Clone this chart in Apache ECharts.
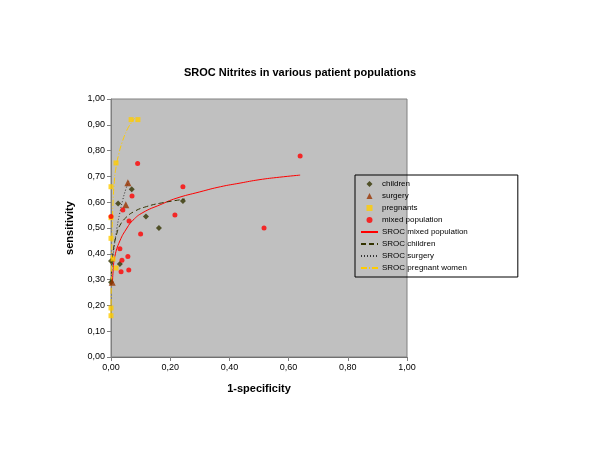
<!DOCTYPE html>
<html><head><meta charset="utf-8">
<script src="https://cdn.jsdelivr.net/npm/echarts@6/dist/echarts.min.js"></script>
<style>html,body{margin:0;padding:0;background:#fff}#c{width:600px;height:450px}</style>
</head><body><div id="c"></div>
<script>
// [1-specificity, sensitivity]
var children = [[0.07,0.65],[0.024,0.595],[0.118,0.545],[0.243,0.605],[0.162,0.50],[0.0,0.372],[0.03,0.36],[0.0,0.29]];
var surgery = [[0.057,0.675],[0.05,0.59],[0.004,0.29]];
var pregnants = [[0.068,0.92],[0.091,0.92],[0.017,0.752],[0.0,0.66],[0.0,0.54],[0.0,0.46],[0.007,0.38],[0.017,0.345],[0.0,0.19],[0.0,0.16]];
var mixed = [[0.639,0.779],[0.517,0.50],[0.09,0.75],[0.071,0.624],[0.243,0.66],[0.216,0.55],[0.04,0.57],[0.061,0.527],[0.0,0.545],[0.10,0.477],[0.03,0.42],[0.057,0.39],[0.037,0.375],[0.034,0.33],[0.06,0.337]];
var srocMixed = [[0.005,0.29],[0.007,0.33],[0.013,0.39],[0.03,0.45],[0.054,0.50],[0.074,0.53],[0.108,0.56],[0.166,0.59],[0.22,0.615],[0.30,0.64],[0.37,0.66],[0.436,0.674],[0.5,0.687],[0.57,0.697],[0.639,0.705]];
var srocChildren = [[0.0,0.29],[0.004,0.37],[0.01,0.43],[0.02,0.48],[0.03,0.51],[0.05,0.54],[0.08,0.565],[0.12,0.583],[0.17,0.597],[0.25,0.612]];
var srocSurgery = [[0.0,0.29],[0.004,0.36],[0.01,0.42],[0.02,0.50],[0.03,0.56],[0.04,0.61],[0.05,0.65],[0.06,0.68]];
var srocPregnant = [[0.0,0.16],[0.001,0.30],[0.003,0.45],[0.007,0.60],[0.012,0.69],[0.017,0.735],[0.027,0.79],[0.037,0.83],[0.054,0.88],[0.07,0.91],[0.08,0.925]];
var xTicks = {min:0, max:1, interval:0.2};
var yTicks = {min:0, max:1, interval:0.1};

function fmt(v){return v.toFixed(2).replace('.',',');}
var chart = echarts.init(document.getElementById('c'));
var font = 'Arial, "Liberation Sans", sans-serif';
var clear = {color:'rgba(0,0,0,0)',borderWidth:0};
chart.setOption({
  animation:false,
  title:{text:'SROC Nitrites in various patient populations',left:'center',top:62,
    textStyle:{fontFamily:font,fontSize:11,fontWeight:'bold',color:'#000'}},
  grid:{left:111,right:193,top:99,bottom:93,show:true,backgroundColor:'#C0C0C0',borderColor:'#808080',borderWidth:1},
  legend:{orient:'vertical',left:355,top:175,itemWidth:17,itemHeight:6,itemGap:4,symbolKeepAspect:true,
    borderColor:'#000',borderWidth:1,borderRadius:0,padding:[5,50,5,5],
    textStyle:{fontFamily:font,fontSize:8,color:'#000',padding:[0,0,0,-1]},
    data:[
      {name:'children',icon:'path://M5,0L10,5L5,10L0,5Z'},
      {name:'surgery',icon:'path://M5,0L10,10L0,10Z'},
      {name:'pregnants',icon:'path://M0,0H10V10H0Z'},
      {name:'mixed population',icon:'path://M5,0A5,5,0,1,1,5,10A5,5,0,1,1,5,0Z'},
      {name:'SROC mixed population',itemStyle:clear},
      {name:'SROC children',itemStyle:clear},
      {name:'SROC surgery',itemStyle:clear},
      {name:'SROC pregnant women',itemStyle:clear}
    ]},
  xAxis:{type:'value',min:xTicks.min,max:xTicks.max,interval:xTicks.interval,
    name:'1-specificity',nameLocation:'middle',nameGap:26,
    nameTextStyle:{fontFamily:font,fontSize:11,fontWeight:'bold',color:'#000'},
    axisLine:{lineStyle:{color:'#707070'}},axisTick:{length:4,lineStyle:{color:'#808080'}},
    splitLine:{show:false},
    axisLabel:{formatter:fmt,fontFamily:font,fontSize:9,color:'#000',margin:6}},
  yAxis:{type:'value',min:yTicks.min,max:yTicks.max,interval:yTicks.interval,
    name:'sensitivity',nameLocation:'middle',nameGap:36,
    nameTextStyle:{fontFamily:font,fontSize:11,fontWeight:'bold',color:'#000'},
    axisLine:{show:true,lineStyle:{color:'#808080'}},axisTick:{show:true,length:4,lineStyle:{color:'#808080'}},
    splitLine:{show:false},
    axisLabel:{formatter:fmt,fontFamily:font,fontSize:9,color:'#000',margin:6}},
  series:[
    {name:'SROC mixed population',type:'line',data:srocMixed,symbol:'none',smooth:true,z:2,
      lineStyle:{color:'#FF0000',width:1},itemStyle:{color:'#FF0000'}},
    {name:'SROC children',type:'line',data:srocChildren,symbol:'none',smooth:true,z:2,
      lineStyle:{color:'#333300',width:1,type:[5,3]},itemStyle:{color:'#333300'}},
    {name:'SROC surgery',type:'line',data:srocSurgery,symbol:'none',smooth:true,z:2,
      lineStyle:{color:'#333333',width:1,type:[1,2]},itemStyle:{color:'#333333'}},
    {name:'SROC pregnant women',type:'line',data:srocPregnant,symbol:'none',smooth:true,z:2,
      lineStyle:{color:'#FFCC00',width:1,type:[6,2,1,2]},itemStyle:{color:'#FFCC00'}},
    {name:'children',type:'scatter',data:children,symbol:'diamond',symbolSize:6,z:3,itemStyle:{color:'#333300'}},
    {name:'surgery',type:'scatter',data:surgery,symbol:'triangle',symbolSize:7,z:3,itemStyle:{color:'#993300'}},
    {name:'pregnants',type:'scatter',data:pregnants,symbol:'rect',symbolSize:5,z:3,itemStyle:{color:'#FFCC00'}},
    {name:'mixed population',type:'scatter',data:mixed,symbol:'circle',symbolSize:5,z:3,itemStyle:{color:'#FF0000'}}
  ]
});
</script></body></html>
